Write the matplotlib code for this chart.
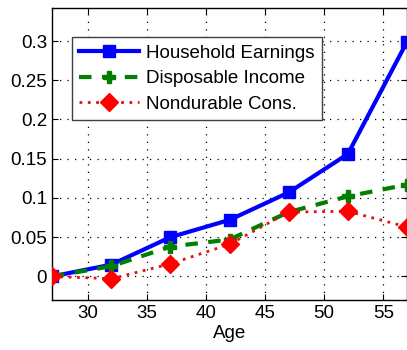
import matplotlib
matplotlib.use("Agg")
import matplotlib.pyplot as plt
from matplotlib.ticker import FixedLocator

plt.rcParams['font.family'] = ['Liberation Sans', 'DejaVu Sans']

age = [27, 32, 37, 42, 47, 52, 57]
household_earnings = [0.0, 0.015, 0.050, 0.072, 0.107, 0.156, 0.299]
disposable_income = [0.0, 0.013, 0.038, 0.047, 0.082, 0.102, 0.117]
nondurable_cons = [0.0, -0.003, 0.016, 0.041, 0.082, 0.083, 0.063]

x_ticks = [30, 35, 40, 45, 50, 55]
y_ticks = [0, 0.05, 0.1, 0.15, 0.2, 0.25, 0.3]
y_tick_labels = ["0", "0.05", "0.1", "0.15", "0.2", "0.25", "0.3"]

fig = plt.figure(figsize=(4.07, 3.5), dpi=100)
ax = fig.add_axes([0.128, 0.143, 0.872, 0.834])

ax.plot(age, household_earnings, color='#0000ff', lw=3, ls='-',
        marker='s', ms=9, mfc='#0000ff', mec='#0000ff', label='Household Earnings', zorder=3)
ax.plot(age, disposable_income, color='#007f00', lw=3, ls=(0, (3, 2.5)),
        marker='P', ms=9, mfc='#007f00', mec='#007f00', label='Disposable Income', zorder=4)
ax.plot(age, nondurable_cons, color='#e01010', lw=2, ls=(0, (1, 2)),
        marker='D', ms=9, mfc='#ff0000', mec='#ff0000', label='Nondurable Cons.', zorder=5)

ax.set_xlim(27, 57)
ax.set_ylim(-0.03, 0.342)
ax.xaxis.set_major_locator(FixedLocator(x_ticks))
ax.set_yticks(y_ticks)
ax.set_yticklabels(y_tick_labels)
ax.tick_params(direction='in', labelsize=13.5, length=4, top=True, right=True)
ax.grid(True, color='black', ls=(0, (1, 5)), lw=0.9)
ax.set_xlabel('Age', fontsize=13.5, labelpad=2)

for s in ax.spines.values():
    s.set_linewidth(1.0)

leg = ax.legend(loc='upper left', bbox_to_anchor=(0.056, 0.90), fontsize=13.5,
                frameon=True, fancybox=False, edgecolor='#404040', framealpha=1,
                handlelength=3.2, borderpad=0.4, labelspacing=0.45,
                handletextpad=0.35, borderaxespad=0)
leg.get_frame().set_linewidth(1.0)

fig.savefig('out.png', dpi=100)
